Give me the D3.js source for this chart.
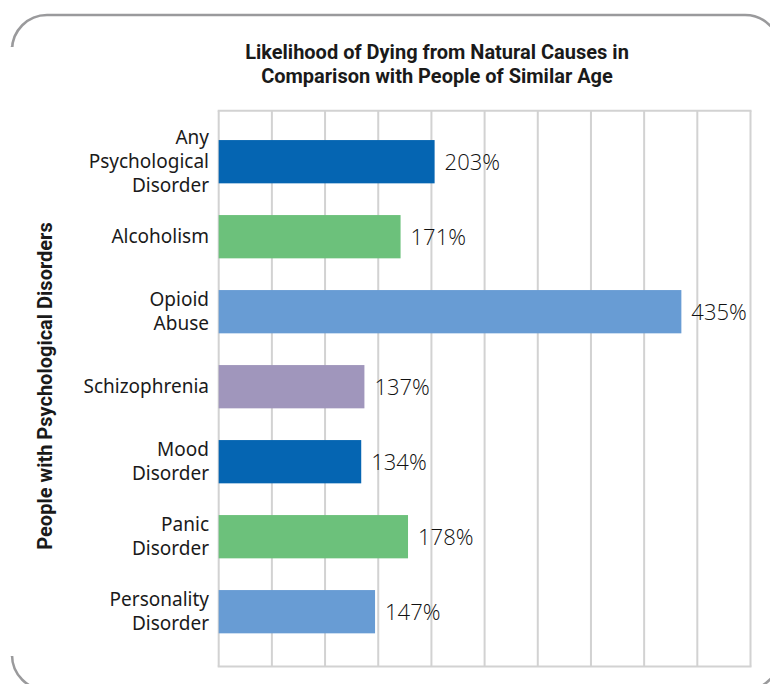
<!DOCTYPE html>
<html>
<head>
<meta charset="utf-8">
<script src="https://cdn.jsdelivr.net/npm/d3@7"></script>
<style>
  html, body { margin: 0; padding: 0; background: #fff; }
  svg { display: block; }
</style>
</head>
<body>
<svg id="chart" width="770" height="684"></svg>
<script>
// Data
const categories = [
  "Any Psychological Disorder",
  "Alcoholism",
  "Opioid Abuse",
  "Schizophrenia",
  "Mood Disorder",
  "Panic Disorder",
  "Personality Disorder"
];
const labelLines = [
  ["Any", "Psychological", "Disorder"],
  ["Alcoholism"],
  ["Opioid", "Abuse"],
  ["Schizophrenia"],
  ["Mood", "Disorder"],
  ["Panic", "Disorder"],
  ["Personality", "Disorder"]
];
const values = [203, 171, 435, 137, 134, 178, 147];
const barColors = ["#0565B2", "#6CC17B", "#689CD4", "#A096BC", "#0565B2", "#6CC17B", "#689CD4"];
const titleLines = [
  "Likelihood of Dying from Natural Causes in",
  "Comparison with People of Similar Age"
];
const yTitle = "People with Psychological Disorders";

const svg = d3.select("#chart");

// Frame around the figure
svg.append("path")
  .attr("d", "M12,46 L12,50 A35,35 0 0 1 47,15 H745 A35,35 0 0 1 780,50 V655 A35,35 0 0 1 745,690 H47 A35,35 0 0 1 12,655 L12,657")
  .attr("fill", "none")
  .attr("stroke", "#9a9a9c")
  .attr("stroke-width", 2.5);
// left side of the frame is open between the corners
svg.append("rect")
  .attr("x", 8).attr("y", 47).attr("width", 10).attr("height", 609)
  .attr("fill", "#fff");

const plot = { left: 218.7, right: 750.5, top: 110.7, bottom: 666.5 };

const x = d3.scaleLinear().domain([0, 500]).range([plot.left, plot.right]);
const y = d3.scaleBand()
  .domain(categories)
  .range([124.2, 649.2])
  .paddingInner(0.423)
  .paddingOuter(0.2115);

// Grid
const grid = svg.append("g").attr("class", "grid");
grid.selectAll("line.v")
  .data(x.ticks(10))
  .join("line")
  .attr("class", "v")
  .attr("x1", d => x(d)).attr("x2", d => x(d))
  .attr("y1", plot.top).attr("y2", plot.bottom)
  .attr("stroke", "#d2d2d2").attr("stroke-width", 2);
grid.selectAll("line.h")
  .data([plot.top, plot.bottom])
  .join("line")
  .attr("class", "h")
  .attr("x1", plot.left - 1).attr("x2", plot.right + 1)
  .attr("y1", d => d).attr("y2", d => d)
  .attr("stroke", "#d2d2d2").attr("stroke-width", 2);

// Bars
svg.append("g").selectAll("rect")
  .data(values)
  .join("rect")
  .attr("x", x(0))
  .attr("y", (d, i) => y(categories[i]))
  .attr("width", d => x(d) - x(0))
  .attr("height", y.bandwidth())
  .attr("fill", (d, i) => barColors[i]);

// Value labels
svg.append("g").selectAll("text")
  .data(values)
  .join("text")
  .attr("x", d => x(d) + 10)
  .attr("y", (d, i) => y(categories[i]) + y.bandwidth() / 2)
  .attr("dy", "0.36em")
  .attr("font-family", "'Open Sans', 'Noto Sans', sans-serif")
  .attr("font-weight", 300)
  .attr("font-size", 22)
  .attr("fill", "#111")
  .text(d => d + "%");

// Category labels
const lineH = 24;
const cat = svg.append("g").selectAll("text")
  .data(labelLines)
  .join("text")
  .attr("text-anchor", "end")
  .attr("font-family", "'Noto Sans', sans-serif")
  .attr("font-size", 19)
  .attr("fill", "#1a1a1a");
cat.each(function(lines, i) {
  const cy = y(categories[i]) + y.bandwidth() / 2;
  const y0 = cy - (lines.length - 1) * lineH / 2;
  d3.select(this).selectAll("tspan")
    .data(lines)
    .join("tspan")
    .attr("x", 209)
    .attr("y", (d, j) => y0 + j * lineH)
    .attr("dy", "0.35em")
    .text(d => d);
});

// Title
svg.append("text")
  .attr("text-anchor", "middle")
  .attr("font-family", "Roboto, 'Noto Sans', sans-serif")
  .attr("font-weight", 700)
  .attr("font-size", 20)
  .attr("fill", "#1a1a1a")
  .selectAll("tspan")
  .data(titleLines)
  .join("tspan")
  .attr("x", 437)
  .attr("y", (d, i) => 59 + i * 24)
  .text(d => d);

// Vertical axis title
svg.append("text")
  .attr("transform", "translate(52,386) rotate(-90)")
  .attr("text-anchor", "middle")
  .attr("font-family", "Roboto, 'Noto Sans', sans-serif")
  .attr("font-weight", 700)
  .attr("font-size", 20)
  .attr("fill", "#1a1a1a")
  .text(yTitle);
</script>
</body>
</html>
